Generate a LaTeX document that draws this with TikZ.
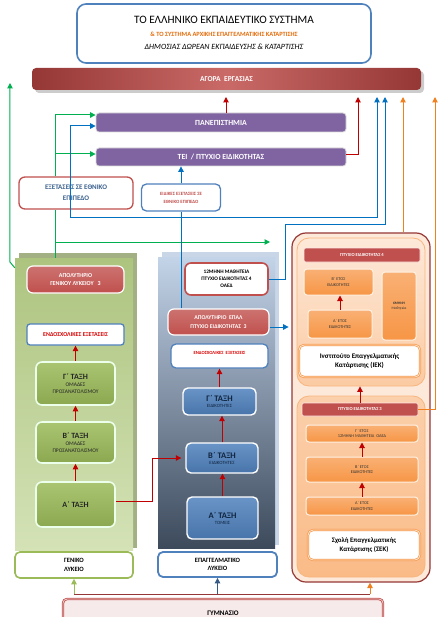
\documentclass[tikz,border=0pt]{standalone}
\usepackage{fontspec}
\setmainfont{Carlito}
\usetikzlibrary{arrows.meta}

\definecolor{boxred}{HTML}{C0504D}
\definecolor{darkred}{HTML}{953735}
\definecolor{purplebar}{HTML}{8064A2}
\definecolor{boxblue}{HTML}{4F81BD}
\definecolor{boxorange}{HTML}{F79646}
\definecolor{boxgreen}{HTML}{9BBB59}
\definecolor{peach}{HTML}{FDE9D9}
\definecolor{linegreen}{HTML}{00B050}
\definecolor{lineblue}{HTML}{0070C0}
\definecolor{lineorange}{HTML}{F07F1E}
\definecolor{linered}{HTML}{C00000}
\definecolor{navy}{HTML}{0F243E}
\definecolor{titleorange}{HTML}{E46C0A}
\definecolor{geltop}{HTML}{ADC47F}
\definecolor{gelbot}{HTML}{D4E2B6}
\definecolor{gelshade}{HTML}{A3B083}
\definecolor{epaltop}{HTML}{C3D3E8}
\definecolor{epalbot}{HTML}{3C4A5C}
\definecolor{epalshade}{HTML}{C9D6E8}

\newcommand\fsz[2]{\fontsize{#1}{#2}\selectfont}

\tikzset{
    sz/.style 2 args={minimum width=#1pt, minimum height=#2pt},
    box/.style={rounded corners=4pt, align=center, inner sep=1pt},
    redbox/.style={box, draw=white, line width=1.2pt, top color=boxred!80!white, bottom color=boxred, text=white, font=\bfseries\fsz{6}{7.5}},
    purplebox/.style={box, rounded corners=3pt, draw=black!15, line width=0.8pt, fill=purplebar, text=white, font=\bfseries\fsz{7.8}{9}},
    greenbox/.style={box, rounded corners=6pt, draw=white!92!green, line width=1.6pt, top color=boxgreen!85!white, bottom color=boxgreen!90!black, text=black!85, font=\fsz{5.5}{7}},
    bluebox/.style={box, rounded corners=5pt, draw=white, line width=1.4pt, top color=boxblue!85!white, bottom color=boxblue!90!black, text=navy, font=\fsz{4.8}{6}},
    orangebox/.style={box, rounded corners=3pt, draw=white!90!orange, line width=1pt, top color=boxorange!75!white, bottom color=boxorange, text=black!80, font=\fsz{4.3}{5.5}},
    ptbar/.style={box, rounded corners=2pt, draw=white!90!red, line width=0.6pt, fill=boxred, text=white, font=\bfseries\fsz{4.6}{5.5}},
    whitebox/.style={box, rounded corners=5pt, fill=white, line width=1.3pt},
    arr/.style={line width=1pt, -{Triangle[width=5.5pt,length=5.5pt]}},
    redarr/.style={arr, draw=linered},
    greenarr/.style={arr, draw=linegreen},
    bluearr/.style={arr, draw=lineblue},
    orangearr/.style={arr, draw=lineorange}
}

\begin{document}
\begin{tikzpicture}[x=1pt,y=-1pt]
    \useasboundingbox (0,0) rectangle (447,617);

    \node[sz={294}{59}, rounded corners=9pt, draw=boxblue, line width=1.6pt, fill=white] (title) at (224,33.5) {};
    \node[font=\fsz{11.3}{13}] (title1) at (224,20) {ΤΟ ΕΛΛΗΝΙΚΟ ΕΚΠΑΙΔΕΥΤΙΚΟ ΣΥΣΤΗΜΑ};
    \node[font=\bfseries\fsz{6.4}{8}, text=titleorange] (title2) at (224,34) {\& ΤΟ ΣΥΣΤΗΜΑ ΑΡΧΙΚΗΣ ΕΠΑΓΓΕΛΜΑΤΙΚΗΣ ΚΑΤΑΡΤΙΣΗΣ};
    \node[font=\itshape\fsz{8}{9}] (title3) at (224,47) {ΔΗΜΟΣΙΑΣ ΔΩΡΕΑΝ ΕΚΠΑΙΔΕΥΣΗΣ \& ΚΑΤΑΡΤΙΣΗΣ};

    \fill[black!20, rounded corners=4pt] (35,71) rectangle (424,93);
    \node[sz={389}{22}, box, left color=darkred, right color=darkred, middle color=boxred!85!white, text=white, font=\bfseries\fsz{7.5}{9}] (agora) at (226.5,79) {ΑΓΟΡΑ~~ΕΡΓΑΣΙΑΣ};

    \node[sz={250}{19}, purplebox] (uni) at (221,122.5) {ΠΑΝΕΠΙΣΤΗΜΙΑ};
    \node[sz={250}{18}, purplebox] (tei) at (221,157) {ΤΕΙ~~/ ΠΤΥΧΙΟ ΕΙΔΙΚΟΤΗΤΑΣ};

    \node[sz={114}{32}, whitebox, rounded corners=6pt, draw=boxred, text=boxblue!75!black, font=\bfseries\fsz{7}{11}] (exams) at (76,193) {ΕΞΕΤΑΣΕΙΣ ΣΕ ΕΘΝΙΚΟ\\ΕΠΙΠΕΔΟ};
    \node[sz={79}{27}, whitebox, draw=boxblue, text=boxred, font=\bfseries\fsz{4.8}{8}] (special) at (181,197.5) {ΕΙΔΙΚΕΣ ΕΞΕΤΑΣΕΙΣ ΣΕ\\ΕΘΝΙΚΟ ΕΠΙΠΕΔΟ};

    \fill[gelshade] (19,253) rectangle (137,548);
    \node[sz={118}{292}, inner sep=0pt, top color=geltop, bottom color=gelbot] (gelpanel) at (74,404) {};
    \node[sz={97}{27}, redbox, rounded corners=6pt] (gelapol) at (75.5,279.5) {ΑΠΟΛΥΤΗΡΙΟ\\ΓΕΝΙΚΟΥ ΛΥΚΕΙΟΥ~~~3};
    \node[sz={97}{21}, whitebox, rounded corners=3pt, draw=boxblue, text=red!85!black, font=\bfseries\fsz{6}{7}] (gelendo) at (75.5,334.5) {ΕΝΔΟΣΧΟΛΙΚΕΣ ΕΞΕΤΑΣΕΙΣ};
    \node[sz={79}{43}, greenbox] (gelg) at (75.5,383.5) {{\bfseries\fsz{8}{11}Γ΄ ΤΑΞΗ}\\ΟΜΑΔΕΣ\\ΠΡΟΣΑΝΑΤΟΛΙΣΜΟΥ};
    \node[sz={79}{41}, greenbox] (gelb) at (75.5,442.5) {{\bfseries\fsz{8}{11}Β΄ ΤΑΞΗ}\\ΟΜΑΔΕΣ\\ΠΡΟΣΑΝΑΤΟΛΙΣΜΟΥ};
    \node[sz={79}{45}, greenbox] (gela) at (75.5,504.5) {\bfseries\fsz{8}{11}Α΄ ΤΑΞΗ};
    \node[sz={118}{26}, whitebox, draw=boxgreen, line width=1.6pt, font=\bfseries\fsz{6.5}{8.5}] (gel) at (74,565) {ΓΕΝΙΚΟ\\ΛΥΚΕΙΟ};

    \fill[epalshade] (162,252) rectangle (279,545);
    \node[sz={117}{291}, inner sep=0pt, top color=epaltop, bottom color=epalbot] (epalpanel) at (216.5,402.5) {};
    \node[sz={83}{32}, whitebox, rounded corners=6pt, draw=boxred, line width=1.6pt, font=\bfseries\fsz{5.3}{7}] (epal12) at (226.5,279) {12ΜΗΝΗ ΜΑΘΗΤΕΙΑ\\ΠΤΥΧΙΟ ΕΙΔΙΚΟΤΗΤΑΣ 4\\ΟΑΕΔ};
    \node[sz={101}{26}, redbox, rounded corners=6pt, font=\bfseries\fsz{5.8}{9}] (epalapol) at (218.5,322) {ΑΠΟΛΥΤΗΡΙΟ~~ΕΠΑΛ\\ΠΤΥΧΙΟ ΕΙΔΙΚΟΤΗΤΑΣ~~3};
    \node[sz={97}{24}, whitebox, draw=boxblue, text=red!85!black, font=\bfseries\fsz{4.7}{6}] (epalendo) at (219.5,356) {\raisebox{6pt}{ΕΝΔΟΣΧΟΛΙΚΕΣ~~ΕΞΕΤΑΣΕΙΣ}};
    \node[sz={73}{27}, bluebox] (epalg) at (219.5,401.5) {{\bfseries\fsz{8.5}{10}Γ΄ ΤΑΞΗ}\\ΕΙΔΙΚΟΤΗΤΕΣ};
    \node[sz={72}{30}, bluebox] (epalb) at (222,458) {{\bfseries\fsz{8.5}{10}Β΄ ΤΑΞΗ}\\ΕΙΔΙΚΟΤΗΤΕΣ};
    \node[sz={71}{42}, bluebox] (epala) at (222.5,518) {{\bfseries\fsz{8.5}{10}Α΄ ΤΑΞΗ}\\ΤΟΜΕΙΣ};
    \node[sz={119}{25}, whitebox, draw=boxblue, line width=1.8pt, font=\bfseries\fsz{6.5}{8.5}] (epal) at (217.5,564.5) {ΕΠΑΓΓΕΛΜΑΤΙΚΟ\\ΛΥΚΕΙΟ};

    \node[sz={138}{349}, rounded corners=14pt, draw=darkred, line width=1.2pt, fill=peach] (ieksek) at (361,407.5) {};
    \node[sz={128}{148}, rounded corners=12pt, draw=boxorange!70!white, line width=0.8pt, top color=peach, bottom color=boxorange!50!white] (iekreg) at (361,312) {};
    \node[sz={128}{181}, rounded corners=12pt, draw=boxorange!70!white, line width=0.8pt, top color=boxorange!45!white, bottom color=boxorange!65!white] (sekreg) at (361,486.5) {};
    \node[sz={116}{14}, ptbar] (iekpt4) at (362,255) {ΠΤΥΧΙΟ ΕΙΔΙΚΟΤΗΤΑΣ 4};
    \node[sz={69}{26}, orangebox] (iekb) at (338.5,282) {Β΄ ΕΤΟΣ\\ΕΙΔΙΚΟΤΗΤΕΣ};
    \node[sz={64}{28}, orangebox] (ieka) at (340,324) {Α΄ ΕΤΟΣ\\ΕΙΔΙΚΟΤΗΤΕΣ};
    \node[sz={34}{68}, orangebox, font=\fsz{3.6}{4.5}] (iek6) at (399,306) {\textbf{6ΜΗΝΗ}\\Μαθητεία};
    \node[sz={121}{32}, whitebox, draw=boxorange, double=peach, double distance=0.8pt, line width=0.7pt, font=\bfseries\fsz{7}{9}] (iekbox) at (359.5,361) {Ινστιτούτο Επαγγελματικής\\Κατάρτισης (ΙΕΚ)};
    \node[sz={116}{13}, ptbar] (sekpt3) at (360,409.5) {ΠΤΥΧΙΟ ΕΙΔΙΚΟΤΗΤΑΣ 3};
    \node[sz={112}{17}, orangebox] (sekg) at (362,433.5) {Γ΄ ΕΤΟΣ\\12ΜΗΝΗ ΜΑΘΗΤΕΙΑ~~ΟΑΕΔ};
    \node[sz={112}{25}, orangebox] (sekb) at (362,469.5) {Β΄ ΕΤΟΣ\\ΕΙΔΙΚΟΤΗΤΕΣ};
    \node[sz={112}{18}, orangebox] (seka) at (362,506) {Α΄ ΕΤΟΣ\\ΕΙΔΙΚΟΤΗΤΕΣ};
    \node[sz={112}{30}, whitebox, draw=boxorange, double=peach, double distance=0.8pt, line width=0.7pt, font=\bfseries\fsz{6.8}{9}] (sekbox) at (364,545) {Σχολή Επαγγελματικής\\Κατάρτισης (ΣΕΚ)};

    \node[sz={320}{28}, box, rounded corners=4pt, draw=boxred, double=boxred!25!white, double distance=0.8pt, line width=0.8pt, fill=boxred!12!white, font=\bfseries\fsz{7}{9}] (gym) at (223,613) {\raisebox{-1pt}{ΓΥΜΝΑΣΙΟ}};

    \coordinate (gtop) at (10,83);
    \coordinate (gx) at (55,242);
    \coordinate (giek) at (270,242);
    \coordinate (jobred1) at (226,97);
    \coordinate (jobred2) at (358,97);
    \coordinate (jobblue1) at (377,97);
    \coordinate (jobblue2) at (385,97);
    \coordinate (joborange1) at (403,97);
    \coordinate (joborange2) at (435,97);
    \coordinate (bl) at (70,218);
    \coordinate (bb) at (285,225);
    \coordinate (rb) at (152,458);
    \coordinate (busl) at (74,594);
    \coordinate (busr) at (370,594);

    \draw[greenarr] ([yshift=-10pt]gelpanel.north west) -- ++(-5,-6) -- (gtop);
    \draw[linegreen, line width=1pt] (gelpanel.north -| gx) -- (exams.south -| gx);
    \draw[greenarr] (exams.north -| gx) |- ([yshift=7.5pt]uni.west);
    \draw[greenarr] (exams.north -| gx) |- ([yshift=3pt]tei.west);
    \draw[greenarr] (gx) -- (giek);

    \draw[redarr] ([xshift=5pt]uni.north) -- (jobred1);
    \draw[redarr] ([yshift=2pt]tei.east) -| (jobred2);

    \draw[lineblue, line width=1pt] (epalapol.north -| special.south) -- (special.south);
    \draw[bluearr] (special.north) -- (special.north |- tei.south);
    \draw[bluearr] (bl) -| (jobblue1);
    \draw[bluearr] (bl) |- ([yshift=-3.5pt]uni.west);
    \draw[bluearr] (epal12.east) -| (bb) -| (jobblue2);
    \draw[bluearr] ([yshift=-5pt]epalapol.east) -- ++(19,0);

    \draw[orangearr] (ieksek.north -| joborange1) -- (joborange1);
    \draw[orangearr] (sekpt3.east) -| (joborange2);

    \draw[redarr] (gelg.north) -- (gelendo.south);
    \draw[redarr] (gelb.north) -- (gelg.south);
    \draw[redarr] (gela.north) -- (gelb.south);
    \draw[linered, line width=1pt] ([yshift=3pt]gela.east) -| (rb);
    \draw[redarr] (rb) -- ([xshift=-4pt]epalb.west);

    \draw[redarr] (epalg.north) -- (epalg.north |- epalendo.south);
    \draw[redarr] (epalb.north) -- (epalb.north |- epalg.south);
    \draw[redarr] (epala.north) -- (epala.north |- epalb.south);

    \draw[redarr] (ieka.north) -- (ieka.north |- iekb.south);
    \draw[redarr] (sekpt3.north) -- (sekpt3.north |- iekreg.south);
    \draw[redarr] (sekb.north) -- (sekg.south);
    \draw[redarr] (seka.north) -- (sekb.south);

    \draw[darkred, line width=0.9pt] (busl) -- (busr);
    \draw[arr, draw=boxgreen] (busl) -- (gel.south);
    \draw[arr, draw=boxblue!70!black] (epal.south |- busl) -- (epal.south);
    \draw[orangearr] (busr) -- (busr |- ieksek.south);
\end{tikzpicture}
\end{document}
